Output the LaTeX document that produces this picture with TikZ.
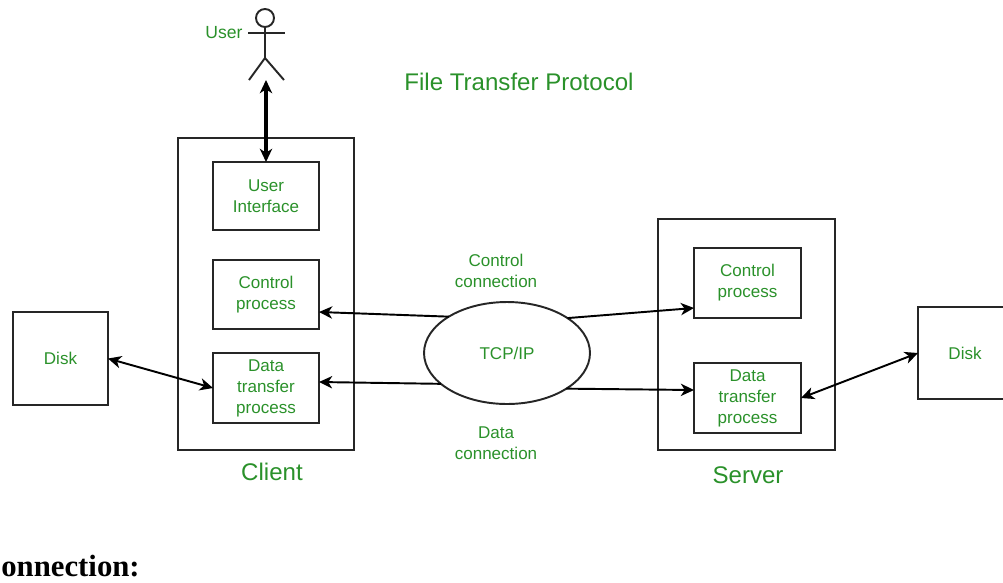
\documentclass[tikz,border=0pt]{standalone}
\usepackage{fontspec}
\setmainfont{Liberation Sans}
\newfontfamily\headfont{Liberation Serif}
\usetikzlibrary{arrows.meta,shapes.geometric}
\definecolor{labelgreen}{RGB}{42,145,42}
\begin{document}
\begin{tikzpicture}[x=0.02cm,y=-0.02cm,
    box/.style={draw=black!85,line width=1.1pt,inner sep=0pt,outer sep=0pt,
      text=labelgreen,align=center,font=\fontsize{9.7}{11.9}\selectfont},
    lbl/.style={text=labelgreen,align=center,font=\fontsize{9.7}{11.9}\selectfont},
    big/.style={text=labelgreen,font=\fontsize{13.7}{16}\selectfont},
    conn/.style={line width=1.1pt,-{Stealth[length=7.5pt,width=7pt,inset=2.2pt]}},
    both/.style={line width=1.1pt,{Stealth[length=7.5pt,width=7pt,inset=2.2pt]}-{Stealth[length=7.5pt,width=7pt,inset=2.2pt]}}]
    \useasboundingbox (0,0) rectangle (1003,582);
    % stick figure
    \draw[line width=1.1pt,black!85] (265,18) circle (0.18cm);
    \draw[line width=1.1pt,black!85] (248,33) -- (285,33);
    \draw[line width=1.1pt,black!85] (265,27) -- (265,58);
    \draw[line width=1.1pt,black!85] (249,80) -- (265,58) -- (284,80);
    \coordinate (userfeet) at (266,80);
    \node[lbl,font=\fontsize{10}{12}\selectfont] (user) at (224,33) {User};
    \node[big] (title) at (519,82) {File Transfer Protocol};
    % client side
    \node[box,minimum width=3.52cm,minimum height=6.24cm] (client) at (266,294) {};
    \node[box,minimum width=2.12cm,minimum height=1.36cm] (ui) at (266,196) {User\\Interface};
    \node[box,minimum width=2.12cm,minimum height=1.38cm] (cctrl) at (266,294.5) {Control\\process};
    \node[box,minimum width=2.12cm,minimum height=1.4cm] (cdata) at (266,388) {Data\\transfer\\process};
    \node[big] (clientlbl) at (272,472) {Client};
    \node[box,minimum width=1.9cm,minimum height=1.86cm] (ldisk) at (60.5,358.5) {Disk};
    % server side
    \node[box,minimum width=3.54cm,minimum height=4.62cm] (server) at (746.5,334.5) {};
    \node[box,minimum width=2.14cm,minimum height=1.4cm] (sctrl) at (747.5,283) {Control\\process};
    \node[box,minimum width=2.14cm,minimum height=1.4cm] (sdata) at (747.5,398) {Data\\transfer\\process};
    \node[big] (serverlbl) at (748,475) {Server};
    \node[box,minimum width=1.88cm,minimum height=1.84cm] (rdisk) at (965,353) {Disk};
    % network in the middle
    \node[box,ellipse,minimum width=3.32cm,minimum height=2.04cm] (tcp) at (507,353) {TCP/IP};
    \node[lbl] (ctrllbl) at (496,271) {Control\\connection};
    \node[lbl] (datalbl) at (496,443) {Data\\connection};
    % connections
    \draw[both,line width=2pt] (userfeet) -- (ui.north);
    \draw[both] (ldisk.east) -- (cdata.west);
    \draw[conn] (tcp.148.6) -- ([yshift=-0.35cm]cctrl.east);
    \draw[conn] (tcp.30.5) -- ([yshift=-0.5cm]sctrl.west);
    \draw[conn] (tcp.205.6) -- ([yshift=0.12cm]cdata.east);
    \draw[conn] (tcp.329.7) -- ([yshift=0.16cm]sdata.west);
    \draw[both] (rdisk.west) -- (sdata.east);
    \node[anchor=base west,inner sep=0pt,font=\fontsize{17.5}{20}\selectfont\headfont\bfseries] (caption) at (1,576) {onnection:};
\end{tikzpicture}
\end{document}
